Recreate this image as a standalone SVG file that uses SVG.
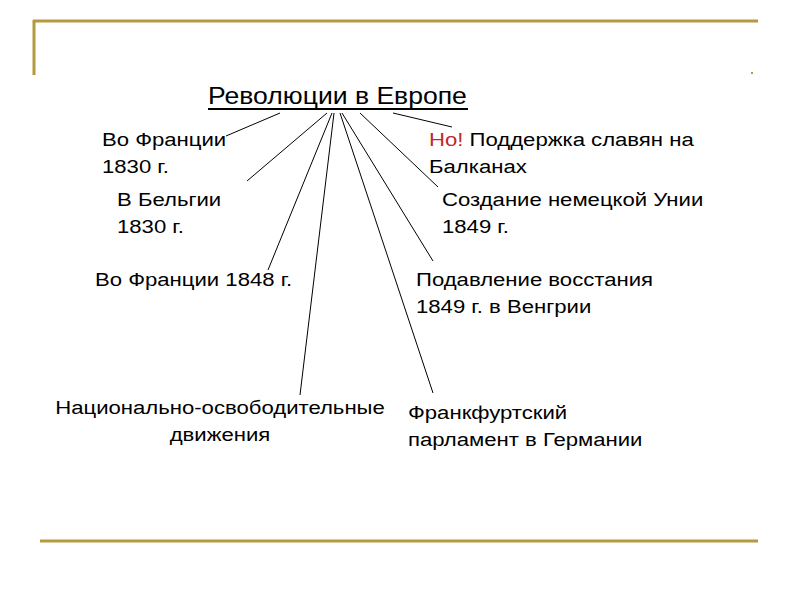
<svg xmlns="http://www.w3.org/2000/svg" width="800" height="600" viewBox="0 0 800 600">
<style>
  text { font-family: "Liberation Sans", Arial, sans-serif; font-size: 19px; fill: #000; }
  .title { font-size: 23px; }
  .red { fill: #c0282d; }
  .frame { stroke: #b5993f; stroke-width: 3; fill: none; }
  .conn line { stroke: #000; stroke-width: 1; }
</style>
<rect width="800" height="600" fill="#fff"/>
<g id="frame">
  <line class="frame" x1="33" y1="21" x2="758" y2="21"/>
  <line class="frame" x1="34" y1="20" x2="34" y2="75"/>
  <rect x="751" y="72" width="2" height="2" fill="#b5993f"/>
  <line class="frame" x1="40" y1="541" x2="758" y2="541"/>
</g>
<g id="connectors" class="conn">
  <line x1="280" y1="113" x2="226" y2="136"/>
  <line x1="327" y1="113" x2="247" y2="181"/>
  <line x1="332" y1="113" x2="268" y2="270"/>
  <line x1="334" y1="113" x2="300" y2="395"/>
  <line x1="340" y1="113" x2="433" y2="393"/>
  <line x1="342" y1="113" x2="433" y2="261"/>
  <line x1="360" y1="113" x2="438" y2="187"/>
  <line x1="393" y1="113" x2="452" y2="127"/>
</g>
<g id="title">
  <text class="title" transform="translate(208,104) scale(1.155,1)">Революции в Европе</text>
  <rect x="208" y="108" width="260" height="2" fill="#000"/>
</g>
<g id="france1830">
  <text transform="translate(102,146) scale(1.165,1)">Во Франции</text>
  <text transform="translate(102,173) scale(1.165,1)">1830 г.</text>
</g>
<g id="belgium1830">
  <text transform="translate(117,206) scale(1.165,1)">В Бельгии</text>
  <text transform="translate(117,233) scale(1.165,1)">1830 г.</text>
</g>
<g id="france1848">
  <text transform="translate(95,286) scale(1.165,1)">Во Франции 1848 г.</text>
</g>
<g id="national">
  <text text-anchor="middle" transform="translate(220,414) scale(1.165,1)">Национально-освободительные</text>
  <text text-anchor="middle" transform="translate(220,441) scale(1.165,1)">движения</text>
</g>
<g id="slavs">
  <text transform="translate(429,146) scale(1.165,1)"><tspan class="red">Но!</tspan> Поддержка славян на</text>
  <text transform="translate(429,173) scale(1.165,1)">Балканах</text>
</g>
<g id="union">
  <text transform="translate(442,206) scale(1.165,1)">Создание немецкой Унии</text>
  <text transform="translate(442,233) scale(1.165,1)">1849 г.</text>
</g>
<g id="hungary">
  <text transform="translate(416,286) scale(1.165,1)">Подавление восстания</text>
  <text transform="translate(416,313) scale(1.165,1)">1849 г. в Венгрии</text>
</g>
<g id="frankfurt">
  <text transform="translate(408,419) scale(1.165,1)">Франкфуртский</text>
  <text transform="translate(408,446) scale(1.165,1)">парламент в Германии</text>
</g>
</svg>
